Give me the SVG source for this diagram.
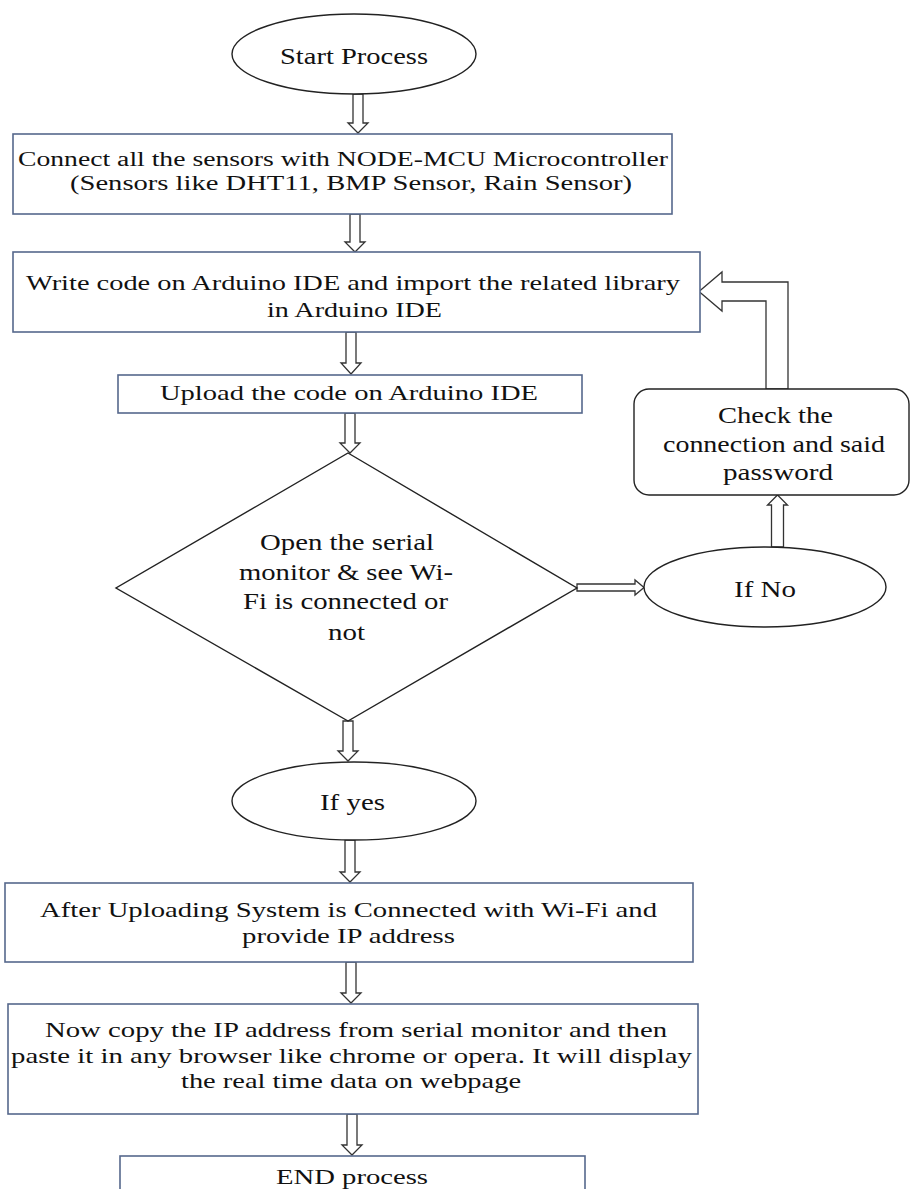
<svg xmlns="http://www.w3.org/2000/svg" width="911" height="1189" viewBox="0 0 911 1189" font-family="'Liberation Serif', 'Times New Roman', serif">
<style>
.bg{fill:#ffffff}
.box{fill:#ffffff;stroke:#56688c;stroke-width:1.6}
.shape{fill:#ffffff;stroke:#222222;stroke-width:1.4}
.arrow{fill:#ffffff;stroke:#333333;stroke-width:1.3;stroke-linejoin:miter}
text{font-family:"Liberation Serif","Times New Roman",serif;fill:#111111}
.t20{font-size:20px}
.t22{font-size:22px}
.t21{font-size:21px}
.t23{font-size:23px}
</style>
<rect class="bg" x="0" y="0" width="911" height="1189"/>

<g id="connectors">
  <path class="arrow" d="M353,94 L363,94 L363,123 L368,123 L358,133 L348,123 L353,123 Z"/>
  <path class="arrow" d="M350,214 L360,214 L360,242 L365,242 L355,252 L345,242 L350,242 Z"/>
  <path class="arrow" d="M346,332 L356,332 L356,363 L361,363 L351,374 L341,363 L346,363 Z"/>
  <path class="arrow" d="M345,413 L355,413 L355,443 L360,443 L350,453 L340,443 L345,443 Z"/>
  <path class="arrow" d="M343,721 L353,721 L353,751 L358,751 L348,761 L338,751 L343,751 Z"/>
  <path class="arrow" d="M345,840 L355,840 L355,872 L360,872 L350,882 L340,872 L345,872 Z"/>
  <path class="arrow" d="M346,962 L356,962 L356,993 L361,993 L351,1003 L341,993 L346,993 Z"/>
  <path class="arrow" d="M347,1114 L357,1114 L357,1145 L362,1145 L352,1155 L342,1145 L347,1145 Z"/>
  <path class="arrow" d="M577,584 L635,584 L635,580 L644,587.5 L635,595 L635,591 L577,591 Z"/>
  <path class="arrow" d="M771.5,547 L771.5,505 L767.5,505 L777.5,495 L787.5,505 L783.5,505 L783.5,547 Z"/>
  <path class="arrow" d="M766,389 L766,301 L722,301 L722,311 L699,291.5 L722,272 L722,282 L788,282 L788,389 Z"/>
</g>

<g id="start">
  <ellipse class="shape" cx="354" cy="54" rx="122" ry="40"/>
  <text class="t23" x="280" y="64" textLength="148" lengthAdjust="spacingAndGlyphs">Start Process</text>
</g>

<g id="connect-sensors">
  <rect class="box" x="13" y="134" width="659" height="80"/>
  <text class="t20" x="18" y="166" textLength="650" lengthAdjust="spacingAndGlyphs">Connect all the sensors with NODE-MCU Microcontroller</text>
  <text class="t20" x="70" y="190" textLength="562" lengthAdjust="spacingAndGlyphs">(Sensors like DHT11, BMP Sensor, Rain Sensor)</text>
</g>

<g id="write-code">
  <rect class="box" x="13" y="252" width="687" height="80"/>
  <text class="t22" x="26" y="290" textLength="654" lengthAdjust="spacingAndGlyphs">Write code on Arduino IDE and import the related library</text>
  <text class="t22" x="267" y="317" textLength="175" lengthAdjust="spacingAndGlyphs">in Arduino IDE</text>
</g>

<g id="upload">
  <rect class="box" x="118" y="375" width="464" height="38"/>
  <text class="t22" x="160" y="400" textLength="378" lengthAdjust="spacingAndGlyphs">Upload the code on Arduino IDE</text>
</g>

<g id="decision">
  <polygon class="shape" points="348,453 577,588 348,721 116,588"/>
  <text class="t23" x="260" y="550" textLength="174" lengthAdjust="spacingAndGlyphs">Open the serial</text>
  <text class="t23" x="239" y="580" textLength="214" lengthAdjust="spacingAndGlyphs">monitor &amp; see Wi-</text>
  <text class="t23" x="243" y="609" textLength="205" lengthAdjust="spacingAndGlyphs">Fi is connected or</text>
  <text class="t23" x="328" y="640" textLength="37" lengthAdjust="spacingAndGlyphs">not</text>
</g>

<g id="if-no">
  <ellipse class="shape" cx="765" cy="587" rx="121" ry="40"/>
  <text class="t23" x="734" y="597" textLength="62" lengthAdjust="spacingAndGlyphs">If No</text>
</g>

<g id="check-connection">
  <rect class="shape" x="634" y="389" width="275" height="106" rx="15" ry="15"/>
  <text class="t23" x="718" y="423" textLength="115" lengthAdjust="spacingAndGlyphs">Check the</text>
  <text class="t23" x="663" y="452" textLength="222" lengthAdjust="spacingAndGlyphs">connection and said</text>
  <text class="t23" x="723" y="480" textLength="110" lengthAdjust="spacingAndGlyphs">password</text>
</g>

<g id="if-yes">
  <ellipse class="shape" cx="354" cy="801" rx="122" ry="39"/>
  <text class="t23" x="320" y="810" textLength="65" lengthAdjust="spacingAndGlyphs">If yes</text>
</g>

<g id="connected-wifi">
  <rect class="box" x="5" y="883" width="688" height="79"/>
  <text class="t21" x="40" y="917" textLength="617" lengthAdjust="spacingAndGlyphs">After Uploading System is Connected with Wi-Fi and</text>
  <text class="t21" x="242" y="943" textLength="213" lengthAdjust="spacingAndGlyphs">provide IP address</text>
</g>

<g id="copy-ip">
  <rect class="box" x="8" y="1004" width="690" height="110"/>
  <text class="t21" x="45" y="1037" textLength="622" lengthAdjust="spacingAndGlyphs">Now copy the IP address from serial monitor and then</text>
  <text class="t21" x="11" y="1063" textLength="681" lengthAdjust="spacingAndGlyphs">paste it in any browser like chrome or opera. It will display</text>
  <text class="t21" x="181" y="1088" textLength="340" lengthAdjust="spacingAndGlyphs">the real time data on webpage</text>
</g>

<g id="end">
  <rect class="box" x="120" y="1156" width="465" height="50"/>
  <text class="t22" x="276" y="1184" textLength="152" lengthAdjust="spacingAndGlyphs">END process</text>
</g>
</svg>
